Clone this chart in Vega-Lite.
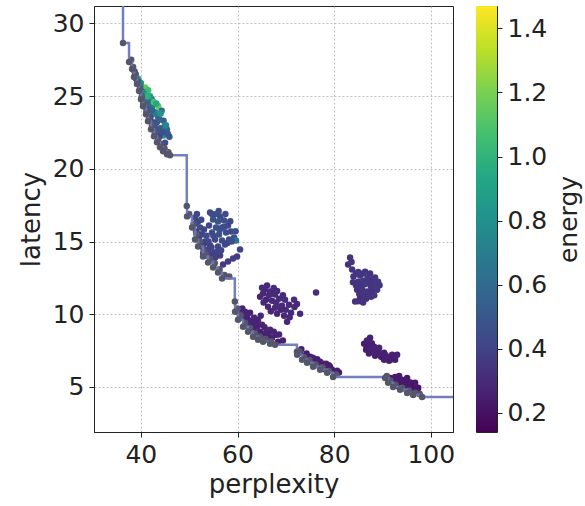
{
  "$schema": "https://vega.github.io/schema/vega-lite/v6.json",
  "autosize": {"type": "pad"},
  "padding": {"left": 17, "top": 0, "right": 0, "bottom": 0},
  "background": "white",
  "spacing": 23,
  "bounds": "flush",
  "config": {
    "font": "DejaVu Sans",
    "view": {"stroke": "#222", "strokeWidth": 1},
    "axis": {
      "gridDash": [2, 2], "gridColor": "#b0b0b0", "gridWidth": 0.8,
      "tickSize": 5, "tickColor": "#222", "domainColor": "#222",
      "labelFontSize": 25, "labelColor": "#222", "labelPadding": 5,
      "titleFontSize": 26, "titleColor": "#222", "titleFontWeight": "normal"
    }
  },
  "datasets": {
    "pts": [
      {"p": 38.9, "l": 26.5, "e": 0.5}, {"p": 39.5, "l": 26.2, "e": 1.0}, {"p": 39.3, "l": 25.95, "e": 0.55},
      {"p": 40.0, "l": 25.9, "e": 0.85}, {"p": 40.9, "l": 25.6, "e": 1.15}, {"p": 40.3, "l": 25.3, "e": 0.6},
      {"p": 41.5, "l": 25.4, "e": 1.05}, {"p": 40.7, "l": 24.9, "e": 0.5}, {"p": 41.2, "l": 24.7, "e": 0.65},
      {"p": 42.2, "l": 24.8, "e": 0.55}, {"p": 41.6, "l": 24.1, "e": 0.5}, {"p": 42.4, "l": 24.3, "e": 0.7},
      {"p": 43.6, "l": 24.3, "e": 1.15}, {"p": 42.0, "l": 23.6, "e": 0.45}, {"p": 42.8, "l": 23.8, "e": 0.6},
      {"p": 44.3, "l": 24.0, "e": 0.6}, {"p": 43.3, "l": 23.2, "e": 0.45}, {"p": 43.0, "l": 22.8, "e": 0.5},
      {"p": 44.0, "l": 22.8, "e": 0.5}, {"p": 44.7, "l": 23.3, "e": 0.55}, {"p": 45.4, "l": 22.7, "e": 0.55},
      {"p": 44.7, "l": 22.3, "e": 0.8}, {"p": 43.8, "l": 22.2, "e": 0.4}, {"p": 45.0, "l": 21.8, "e": 0.45},
      {"p": 39.8, "l": 25.5, "e": 0.4}, {"p": 40.5, "l": 24.5, "e": 0.45}, {"p": 41.9, "l": 25.0, "e": 0.9},
      {"p": 43.0, "l": 23.9, "e": 0.75}, {"p": 38.7, "l": 26.7, "e": 0.45}, {"p": 39.4, "l": 26.0, "e": 0.5},
      {"p": 45.9, "l": 22.2, "e": 0.5}, {"p": 42.5, "l": 23.2, "e": 0.4}, {"p": 41.1, "l": 24.2, "e": 0.4},
      {"p": 44.3, "l": 21.7, "e": 0.4},
      {"p": 39.0, "l": 26.2, "e": 0.45}, {"p": 39.9, "l": 25.7, "e": 0.7}, {"p": 40.6, "l": 25.2, "e": 0.8},
      {"p": 41.3, "l": 25.0, "e": 1.0}, {"p": 41.8, "l": 24.5, "e": 0.6}, {"p": 42.3, "l": 24.0, "e": 0.55},
      {"p": 42.7, "l": 24.6, "e": 1.1}, {"p": 43.2, "l": 24.5, "e": 0.95}, {"p": 43.5, "l": 23.6, "e": 0.65},
      {"p": 43.9, "l": 23.4, "e": 0.55}, {"p": 44.1, "l": 23.8, "e": 0.85}, {"p": 44.9, "l": 22.9, "e": 0.6},
      {"p": 45.2, "l": 23.0, "e": 0.75}, {"p": 45.6, "l": 22.4, "e": 0.5}, {"p": 44.4, "l": 22.5, "e": 0.45},
      {"p": 43.5, "l": 22.6, "e": 0.5}, {"p": 42.9, "l": 23.1, "e": 0.5}, {"p": 41.9, "l": 23.5, "e": 0.42},
      {"p": 41.2, "l": 23.95, "e": 0.42}, {"p": 40.2, "l": 24.9, "e": 0.45},
      {"p": 51.21, "l": 16.66, "e": 0.42}, {"p": 51.83, "l": 16.38, "e": 0.4}, {"p": 52.25, "l": 15.97, "e": 0.44},
      {"p": 51.42, "l": 15.69, "e": 0.38}, {"p": 52.66, "l": 15.49, "e": 0.41}, {"p": 52.04, "l": 15.14, "e": 0.39},
      {"p": 53.28, "l": 15.0, "e": 0.43}, {"p": 52.87, "l": 14.59, "e": 0.37}, {"p": 53.9, "l": 14.45, "e": 0.4},
      {"p": 53.49, "l": 14.04, "e": 0.36}, {"p": 54.52, "l": 14.11, "e": 0.38}, {"p": 52.25, "l": 14.8, "e": 0.37},
      {"p": 51.0, "l": 16.18, "e": 0.4}, {"p": 53.07, "l": 15.83, "e": 0.42},
      {"p": 54.32, "l": 17.0, "e": 0.45}, {"p": 55.35, "l": 16.87, "e": 0.47}, {"p": 56.39, "l": 16.73, "e": 0.44},
      {"p": 54.94, "l": 16.52, "e": 0.46}, {"p": 55.97, "l": 16.38, "e": 0.48}, {"p": 57.22, "l": 16.45, "e": 0.45},
      {"p": 54.11, "l": 16.11, "e": 0.43}, {"p": 55.56, "l": 15.97, "e": 0.46}, {"p": 56.8, "l": 15.97, "e": 0.44},
      {"p": 58.04, "l": 16.11, "e": 0.42}, {"p": 54.73, "l": 15.62, "e": 0.44}, {"p": 56.18, "l": 15.49, "e": 0.47},
      {"p": 57.63, "l": 15.62, "e": 0.45}, {"p": 58.66, "l": 15.69, "e": 0.43}, {"p": 55.35, "l": 15.14, "e": 0.42},
      {"p": 56.8, "l": 15.07, "e": 0.45}, {"p": 58.25, "l": 15.14, "e": 0.44}, {"p": 59.29, "l": 15.28, "e": 0.48},
      {"p": 54.32, "l": 14.73, "e": 0.4}, {"p": 55.97, "l": 14.66, "e": 0.41}, {"p": 57.42, "l": 14.8, "e": 0.42},
      {"p": 55.14, "l": 14.24, "e": 0.39}, {"p": 56.39, "l": 14.04, "e": 0.38}, {"p": 59.7, "l": 15.07, "e": 0.65},
      {"p": 60.53, "l": 14.45, "e": 0.4}, {"p": 57.01, "l": 13.42, "e": 0.36}, {"p": 58.04, "l": 13.62, "e": 0.37},
      {"p": 59.08, "l": 13.83, "e": 0.38}, {"p": 59.91, "l": 13.97, "e": 0.36},
      {"p": 51.6, "l": 16.9, "e": 0.42}, {"p": 52.5, "l": 16.5, "e": 0.43}, {"p": 52.0, "l": 15.5, "e": 0.4},
      {"p": 53.6, "l": 15.4, "e": 0.44}, {"p": 53.2, "l": 14.9, "e": 0.39}, {"p": 54.0, "l": 15.0, "e": 0.41},
      {"p": 54.6, "l": 14.6, "e": 0.4}, {"p": 55.8, "l": 14.3, "e": 0.4}, {"p": 56.6, "l": 14.4, "e": 0.41},
      {"p": 57.9, "l": 14.9, "e": 0.43}, {"p": 58.8, "l": 15.0, "e": 0.45}, {"p": 57.5, "l": 16.9, "e": 0.44},
      {"p": 56.1, "l": 17.1, "e": 0.45}, {"p": 58.5, "l": 16.4, "e": 0.43}, {"p": 59.6, "l": 15.7, "e": 0.46},
      {"p": 55.0, "l": 15.4, "e": 0.43}, {"p": 56.3, "l": 15.8, "e": 0.46}, {"p": 57.2, "l": 16.0, "e": 0.44},
      {"p": 54.7, "l": 16.9, "e": 0.44}, {"p": 52.9, "l": 14.2, "e": 0.38}, {"p": 55.4, "l": 13.9, "e": 0.38},
      {"p": 51.5, "l": 16.3, "e": 0.41},
      {"p": 65.08, "l": 11.83, "e": 0.3}, {"p": 66.12, "l": 11.97, "e": 0.29}, {"p": 65.29, "l": 11.42, "e": 0.28},
      {"p": 66.74, "l": 11.56, "e": 0.31}, {"p": 67.77, "l": 11.35, "e": 0.3}, {"p": 65.91, "l": 11.0, "e": 0.27},
      {"p": 67.15, "l": 10.93, "e": 0.29}, {"p": 68.6, "l": 11.07, "e": 0.3}, {"p": 69.84, "l": 11.0, "e": 0.31},
      {"p": 66.32, "l": 10.52, "e": 0.28}, {"p": 67.77, "l": 10.45, "e": 0.3}, {"p": 69.22, "l": 10.59, "e": 0.29},
      {"p": 70.67, "l": 10.66, "e": 0.3}, {"p": 68.19, "l": 10.04, "e": 0.28}, {"p": 69.64, "l": 9.9, "e": 0.29},
      {"p": 71.09, "l": 10.11, "e": 0.3}, {"p": 70.26, "l": 9.49, "e": 0.28}, {"p": 71.71, "l": 11.0, "e": 0.31},
      {"p": 72.95, "l": 10.04, "e": 0.3}, {"p": 67.15, "l": 11.42, "e": 0.29}, {"p": 68.81, "l": 10.52, "e": 0.3},
      {"p": 64.67, "l": 11.21, "e": 0.28}, {"p": 76.26, "l": 11.49, "e": 0.31},
      {"p": 65.6, "l": 11.7, "e": 0.29}, {"p": 66.5, "l": 11.3, "e": 0.3}, {"p": 67.5, "l": 11.8, "e": 0.3},
      {"p": 68.2, "l": 11.6, "e": 0.29}, {"p": 68.0, "l": 10.8, "e": 0.3}, {"p": 69.0, "l": 10.3, "e": 0.28},
      {"p": 70.0, "l": 10.3, "e": 0.29}, {"p": 70.8, "l": 9.8, "e": 0.29}, {"p": 71.8, "l": 10.5, "e": 0.3},
      {"p": 69.4, "l": 11.3, "e": 0.3}, {"p": 66.9, "l": 10.2, "e": 0.28}, {"p": 65.4, "l": 10.8, "e": 0.28},
      {"p": 72.3, "l": 10.7, "e": 0.29},
      {"p": 60.53, "l": 10.31, "e": 0.27}, {"p": 61.56, "l": 10.18, "e": 0.28}, {"p": 62.6, "l": 10.11, "e": 0.27},
      {"p": 61.15, "l": 9.76, "e": 0.26}, {"p": 62.18, "l": 9.62, "e": 0.27}, {"p": 63.43, "l": 9.76, "e": 0.28},
      {"p": 64.25, "l": 9.62, "e": 0.27}, {"p": 62.81, "l": 9.21, "e": 0.26}, {"p": 64.05, "l": 9.14, "e": 0.27},
      {"p": 65.08, "l": 9.28, "e": 0.28}, {"p": 64.67, "l": 8.8, "e": 0.26}, {"p": 65.91, "l": 8.73, "e": 0.27},
      {"p": 66.74, "l": 8.93, "e": 0.28}, {"p": 65.7, "l": 8.38, "e": 0.25}, {"p": 67.15, "l": 8.38, "e": 0.26},
      {"p": 67.98, "l": 8.59, "e": 0.27}, {"p": 68.4, "l": 8.11, "e": 0.25}, {"p": 66.32, "l": 8.25, "e": 0.25},
      {"p": 61.98, "l": 9.21, "e": 0.26}, {"p": 63.63, "l": 8.73, "e": 0.26},
      {"p": 61.0, "l": 10.4, "e": 0.27}, {"p": 62.0, "l": 9.9, "e": 0.27}, {"p": 63.0, "l": 9.5, "e": 0.27},
      {"p": 63.9, "l": 9.4, "e": 0.27}, {"p": 64.8, "l": 9.9, "e": 0.28}, {"p": 65.6, "l": 9.1, "e": 0.27},
      {"p": 66.4, "l": 8.6, "e": 0.26}, {"p": 67.5, "l": 8.8, "e": 0.27}, {"p": 68.6, "l": 8.6, "e": 0.27},
      {"p": 69.4, "l": 8.2, "e": 0.26}, {"p": 63.2, "l": 9.0, "e": 0.26}, {"p": 64.3, "l": 8.6, "e": 0.26},
      {"p": 65.0, "l": 8.5, "e": 0.26}, {"p": 60.5, "l": 9.9, "e": 0.27}, {"p": 61.7, "l": 9.5, "e": 0.26},
      {"p": 72.95, "l": 7.35, "e": 0.24}, {"p": 73.99, "l": 7.14, "e": 0.25}, {"p": 75.02, "l": 7.07, "e": 0.26},
      {"p": 73.8, "l": 6.95, "e": 0.23}, {"p": 74.81, "l": 6.73, "e": 0.24}, {"p": 76.06, "l": 6.66, "e": 0.25},
      {"p": 77.09, "l": 6.73, "e": 0.26}, {"p": 75.9, "l": 6.45, "e": 0.23}, {"p": 77.3, "l": 6.35, "e": 0.24},
      {"p": 77.92, "l": 6.24, "e": 0.23}, {"p": 78.75, "l": 6.18, "e": 0.24}, {"p": 79.99, "l": 6.04, "e": 0.23},
      {"p": 78.33, "l": 6.59, "e": 0.25}, {"p": 79.16, "l": 6.38, "e": 0.24}, {"p": 80.61, "l": 6.11, "e": 0.25},
      {"p": 74.4, "l": 6.93, "e": 0.24},
      {"p": 73.2, "l": 7.6, "e": 0.24}, {"p": 74.3, "l": 7.3, "e": 0.25}, {"p": 75.6, "l": 7.0, "e": 0.26},
      {"p": 76.5, "l": 6.9, "e": 0.25}, {"p": 77.7, "l": 6.6, "e": 0.25}, {"p": 78.9, "l": 6.5, "e": 0.24},
      {"p": 76.8, "l": 6.5, "e": 0.24}, {"p": 75.2, "l": 6.8, "e": 0.25}, {"p": 79.5, "l": 6.2, "e": 0.24},
      {"p": 81.0, "l": 6.0, "e": 0.23},
      {"p": 83.3, "l": 13.9, "e": 0.33}, {"p": 82.89, "l": 13.42, "e": 0.32}, {"p": 83.72, "l": 13.07, "e": 0.34},
      {"p": 84.54, "l": 12.8, "e": 0.33}, {"p": 85.37, "l": 12.66, "e": 0.35}, {"p": 86.41, "l": 12.93, "e": 0.34},
      {"p": 87.44, "l": 12.8, "e": 0.33}, {"p": 88.48, "l": 12.52, "e": 0.35}, {"p": 84.96, "l": 12.24, "e": 0.34},
      {"p": 85.99, "l": 12.31, "e": 0.36}, {"p": 87.03, "l": 12.18, "e": 0.33}, {"p": 88.06, "l": 12.04, "e": 0.34},
      {"p": 89.1, "l": 12.24, "e": 0.35}, {"p": 84.75, "l": 11.69, "e": 0.33}, {"p": 85.79, "l": 11.69, "e": 0.34},
      {"p": 86.82, "l": 11.56, "e": 0.35}, {"p": 87.86, "l": 11.62, "e": 0.33}, {"p": 88.89, "l": 11.69, "e": 0.34},
      {"p": 85.37, "l": 11.14, "e": 0.32}, {"p": 86.61, "l": 11.07, "e": 0.33}, {"p": 87.65, "l": 11.21, "e": 0.34},
      {"p": 84.34, "l": 10.87, "e": 0.32}, {"p": 86.2, "l": 12.04, "e": 0.35}, {"p": 84.54, "l": 11.97, "e": 0.34},
      {"p": 83.6, "l": 13.6, "e": 0.33}, {"p": 84.0, "l": 12.6, "e": 0.34}, {"p": 85.0, "l": 12.9, "e": 0.35},
      {"p": 86.0, "l": 12.8, "e": 0.34}, {"p": 86.9, "l": 12.5, "e": 0.35}, {"p": 87.9, "l": 12.4, "e": 0.34},
      {"p": 85.5, "l": 12.0, "e": 0.34}, {"p": 86.5, "l": 12.1, "e": 0.35}, {"p": 87.6, "l": 11.9, "e": 0.34},
      {"p": 88.6, "l": 11.9, "e": 0.35}, {"p": 85.2, "l": 11.4, "e": 0.33}, {"p": 86.2, "l": 11.4, "e": 0.34},
      {"p": 87.2, "l": 11.3, "e": 0.34}, {"p": 88.3, "l": 11.3, "e": 0.35}, {"p": 86.0, "l": 10.8, "e": 0.33},
      {"p": 85.0, "l": 10.9, "e": 0.32}, {"p": 83.9, "l": 12.2, "e": 0.33}, {"p": 89.4, "l": 12.0, "e": 0.34},
      {"p": 87.44, "l": 8.38, "e": 0.26}, {"p": 86.2, "l": 7.97, "e": 0.25}, {"p": 87.24, "l": 7.83, "e": 0.26},
      {"p": 88.27, "l": 7.76, "e": 0.27}, {"p": 86.61, "l": 7.56, "e": 0.25}, {"p": 87.86, "l": 7.49, "e": 0.26},
      {"p": 89.1, "l": 7.42, "e": 0.27}, {"p": 90.34, "l": 7.35, "e": 0.26}, {"p": 88.48, "l": 7.14, "e": 0.25},
      {"p": 89.72, "l": 7.07, "e": 0.26}, {"p": 90.96, "l": 7.07, "e": 0.27}, {"p": 92.0, "l": 7.21, "e": 0.26},
      {"p": 92.62, "l": 6.87, "e": 0.25}, {"p": 91.38, "l": 6.8, "e": 0.26}, {"p": 90.34, "l": 6.87, "e": 0.25},
      {"p": 93.03, "l": 7.21, "e": 0.27}, {"p": 87.03, "l": 8.11, "e": 0.26}, {"p": 89.31, "l": 7.69, "e": 0.27},
      {"p": 86.8, "l": 8.2, "e": 0.26}, {"p": 87.8, "l": 8.0, "e": 0.26}, {"p": 86.7, "l": 7.8, "e": 0.25},
      {"p": 88.8, "l": 7.6, "e": 0.27}, {"p": 87.2, "l": 7.3, "e": 0.25}, {"p": 89.5, "l": 7.3, "e": 0.26},
      {"p": 90.6, "l": 7.2, "e": 0.26}, {"p": 91.4, "l": 7.0, "e": 0.26}, {"p": 90.1, "l": 7.0, "e": 0.25},
      {"p": 88.3, "l": 7.4, "e": 0.26}, {"p": 91.9, "l": 6.9, "e": 0.25}, {"p": 92.6, "l": 7.1, "e": 0.26},
      {"p": 91.58, "l": 5.62, "e": 0.22}, {"p": 92.62, "l": 5.69, "e": 0.23}, {"p": 93.24, "l": 5.49, "e": 0.22},
      {"p": 92.2, "l": 5.28, "e": 0.21}, {"p": 93.65, "l": 5.21, "e": 0.22}, {"p": 94.69, "l": 5.35, "e": 0.23},
      {"p": 94.28, "l": 4.93, "e": 0.21}, {"p": 95.52, "l": 5.07, "e": 0.22}, {"p": 96.35, "l": 4.87, "e": 0.21},
      {"p": 95.93, "l": 4.7, "e": 0.2}, {"p": 97.17, "l": 4.66, "e": 0.21}, {"p": 93.45, "l": 5.76, "e": 0.23},
      {"p": 95.1, "l": 5.62, "e": 0.22}, {"p": 97.6, "l": 4.55, "e": 0.2}, {"p": 96.76, "l": 5.28, "e": 0.22},
      {"p": 92.0, "l": 5.55, "e": 0.22}, {"p": 93.0, "l": 5.35, "e": 0.22}, {"p": 94.0, "l": 5.5, "e": 0.22},
      {"p": 94.9, "l": 5.1, "e": 0.22}, {"p": 95.8, "l": 5.3, "e": 0.22}, {"p": 96.0, "l": 4.95, "e": 0.21},
      {"p": 96.9, "l": 4.8, "e": 0.21}, {"p": 97.4, "l": 4.95, "e": 0.21}, {"p": 94.6, "l": 4.9, "e": 0.21},
      {"p": 93.2, "l": 5.05, "e": 0.21}
    ],
    "grey": [
      {"p": 38.0, "l": 27.5}, {"p": 38.4, "l": 27.0}, {"p": 38.9, "l": 26.5}, {"p": 39.4, "l": 26.0},
      {"p": 39.85, "l": 25.5}, {"p": 40.2, "l": 25.0}, {"p": 40.7, "l": 24.5}, {"p": 41.2, "l": 24.0},
      {"p": 41.7, "l": 23.5}, {"p": 42.3, "l": 23.0}, {"p": 42.9, "l": 22.5}, {"p": 43.6, "l": 22.0},
      {"p": 44.2, "l": 21.7}, {"p": 44.9, "l": 21.4}, {"p": 45.7, "l": 21.15},
      {"p": 50.0, "l": 16.9}, {"p": 50.9, "l": 16.2}, {"p": 51.5, "l": 15.5}, {"p": 52.2, "l": 15.0},
      {"p": 53.0, "l": 14.4}, {"p": 53.5, "l": 14.1}, {"p": 54.3, "l": 13.8}, {"p": 55.3, "l": 13.5},
      {"p": 56.3, "l": 13.1}, {"p": 57.3, "l": 12.7}, {"p": 58.3, "l": 12.6},
      {"p": 60.0, "l": 10.4}, {"p": 60.6, "l": 9.9}, {"p": 61.6, "l": 9.4}, {"p": 62.6, "l": 9.05},
      {"p": 63.6, "l": 8.7}, {"p": 64.6, "l": 8.45}, {"p": 65.8, "l": 8.3}, {"p": 67.0, "l": 8.15},
      {"p": 72.8, "l": 7.45}, {"p": 73.8, "l": 7.05}, {"p": 74.9, "l": 6.85}, {"p": 76.2, "l": 6.55},
      {"p": 77.6, "l": 6.35}, {"p": 78.9, "l": 6.1}, {"p": 80.5, "l": 5.85},
      {"p": 90.9, "l": 5.75}, {"p": 91.6, "l": 5.45}, {"p": 92.7, "l": 5.15}, {"p": 94.1, "l": 4.95},
      {"p": 95.5, "l": 4.75}, {"p": 96.8, "l": 4.6}, {"p": 97.7, "l": 4.5}
    ],
    "front": [
      {"p": 36.3, "l": 31.2}, {"p": 36.3, "l": 28.66}, {"p": 37.55, "l": 27.35}, {"p": 38.17, "l": 26.86},
      {"p": 38.58, "l": 26.31}, {"p": 39.2, "l": 25.83}, {"p": 39.62, "l": 25.35}, {"p": 40.03, "l": 24.79},
      {"p": 40.45, "l": 24.31}, {"p": 41.07, "l": 23.76}, {"p": 41.48, "l": 23.28}, {"p": 42.1, "l": 22.72},
      {"p": 42.72, "l": 22.24}, {"p": 43.34, "l": 21.83}, {"p": 43.96, "l": 21.49}, {"p": 44.59, "l": 21.21},
      {"p": 45.41, "l": 21.0}, {"p": 46.03, "l": 20.93}, {"p": 49.5, "l": 17.44}, {"p": 49.56, "l": 16.73},
      {"p": 50.59, "l": 15.97}, {"p": 51.21, "l": 15.14}, {"p": 51.83, "l": 14.66}, {"p": 52.87, "l": 13.97},
      {"p": 53.9, "l": 13.55}, {"p": 54.94, "l": 13.21}, {"p": 55.97, "l": 12.87}, {"p": 56.8, "l": 12.45},
      {"p": 59.45, "l": 10.87}, {"p": 59.5, "l": 10.17}, {"p": 60.11, "l": 9.62}, {"p": 61.15, "l": 9.14},
      {"p": 62.18, "l": 8.8}, {"p": 63.22, "l": 8.45}, {"p": 64.25, "l": 8.24}, {"p": 65.29, "l": 8.11},
      {"p": 66.74, "l": 7.97}, {"p": 67.77, "l": 7.9}, {"p": 72.3, "l": 7.42}, {"p": 72.35, "l": 7.21},
      {"p": 73.36, "l": 6.87}, {"p": 74.4, "l": 6.66}, {"p": 75.64, "l": 6.38}, {"p": 77.09, "l": 6.18},
      {"p": 78.54, "l": 5.97}, {"p": 79.78, "l": 5.69}, {"p": 90.55, "l": 5.62}, {"p": 91.17, "l": 5.28},
      {"p": 92.2, "l": 5.0}, {"p": 93.65, "l": 4.8}, {"p": 95.1, "l": 4.59}, {"p": 96.35, "l": 4.45},
      {"p": 98.21, "l": 4.31}, {"p": 104.6, "l": 4.31}
    ],
    "bar": [{"lo": 0.14, "hi": 1.47, "a": 0, "b": 1}]
  },
  "hconcat": [
    {
      "width": 359,
      "height": 426,
      "encoding": {
        "x": {"field": "p", "type": "quantitative", "title": "perplexity",
          "scale": {"domain": [30.3, 104.6], "nice": false, "zero": false},
          "axis": {"values": [40, 60, 80, 100], "grid": true, "titlePadding": 4}},
        "y": {"field": "l", "type": "quantitative", "title": "latency",
          "scale": {"domain": [1.9, 31.2], "nice": false, "zero": false},
          "axis": {"values": [5, 10, 15, 20, 25, 30], "grid": true, "titlePadding": 8}}
      },
      "layer": [
        {
          "data": {"name": "pts"},
          "mark": {"type": "circle", "size": 42, "opacity": 1},
          "encoding": {
            "color": {"field": "e", "type": "quantitative", "legend": null,
              "scale": {"scheme": "viridis", "domain": [0.14, 1.47]}}
          }
        },
        {
          "data": {"name": "grey"},
          "mark": {"type": "circle", "size": 42, "opacity": 1, "color": "#56566a"},
          "encoding": {}
        },
        {
          "data": {"name": "front"},
          "mark": {"type": "line", "interpolate": "step-after", "color": "#6b78bb", "strokeWidth": 2.5, "opacity": 0.95},
          "encoding": {}
        },
        {
          "data": {"name": "front"},
          "transform": [{"filter": "datum.l < 31 && datum.p < 104"}],
          "mark": {"type": "circle", "size": 42, "opacity": 1, "color": "#56566a"},
          "encoding": {}
        }
      ]
    },
    {
      "width": 21,
      "height": 426,
      "data": {"name": "bar"},
      "mark": {"type": "rect", "color": {"gradient": "linear", "x1": 0, "y1": 1, "x2": 0, "y2": 0,
        "stops": [
          {"offset": 0.0, "color": "#440154"}, {"offset": 0.1, "color": "#482475"},
          {"offset": 0.2, "color": "#414487"}, {"offset": 0.3, "color": "#355f8d"},
          {"offset": 0.4, "color": "#2a788e"}, {"offset": 0.5, "color": "#21918c"},
          {"offset": 0.6, "color": "#22a884"}, {"offset": 0.7, "color": "#44bf70"},
          {"offset": 0.8, "color": "#7ad151"}, {"offset": 0.9, "color": "#bddf26"},
          {"offset": 1.0, "color": "#fde725"}]}},
      "encoding": {
        "x": {"field": "a", "type": "quantitative", "scale": {"domain": [0, 1], "nice": false}, "axis": null},
        "x2": {"field": "b"},
        "y": {"field": "lo", "type": "quantitative", "title": "energy",
          "scale": {"domain": [0.14, 1.47], "nice": false, "zero": false},
          "axis": {"orient": "right", "values": [0.2, 0.4, 0.6, 0.8, 1.0, 1.2, 1.4], "format": ".1f",
            "grid": false, "domain": false, "tickSize": 5, "labelPadding": 5, "labelFontSize": 25,
            "titleAngle": 270, "titleBaseline": "top", "titleFontSize": 25, "titlePadding": 10}},
        "y2": {"field": "hi"}
      }
    }
  ]
}
